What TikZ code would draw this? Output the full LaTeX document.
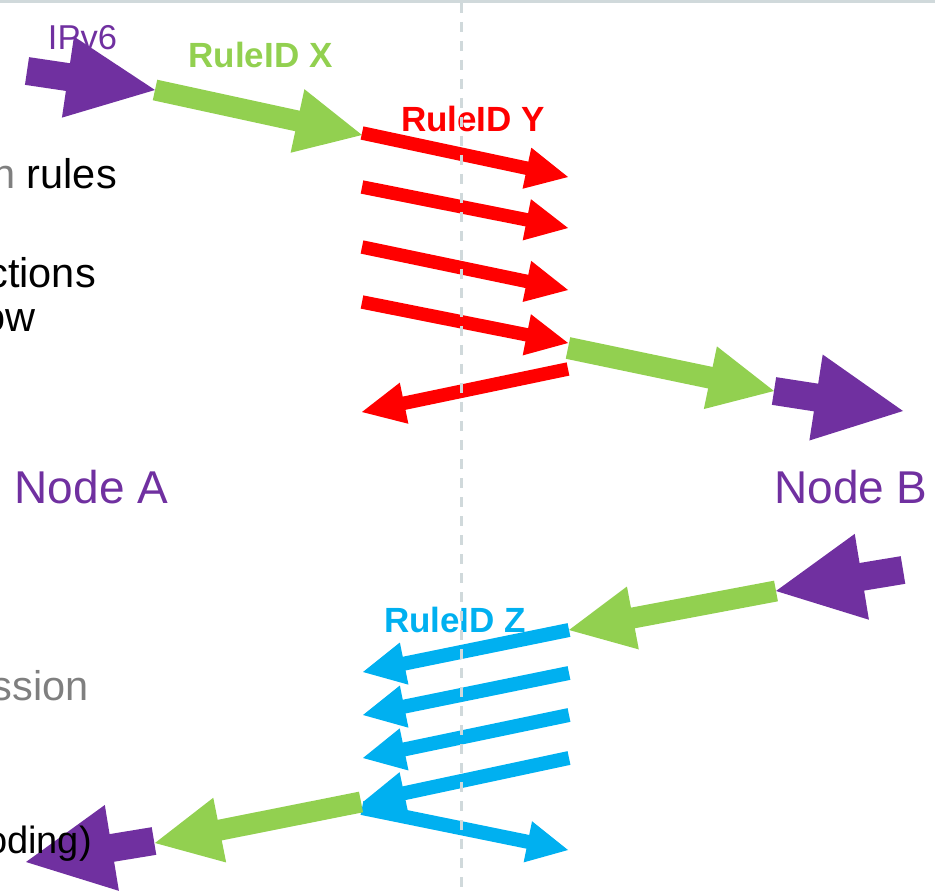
\documentclass[tikz,border=0pt]{standalone}
\usepackage{fontspec}
\setmainfont{Liberation Sans}
\usetikzlibrary{calc}
\definecolor{cpurple}{HTML}{7030A0}
\definecolor{cgreen}{HTML}{92D050}
\definecolor{cred}{HTML}{FF0000}
\definecolor{cblue}{HTML}{00B0F0}
\definecolor{ctextgray}{HTML}{7F7F7F}
\definecolor{cline}{HTML}{D0D9DB}
% #1 colour, #2 from, #3 to (tip), #4 shaft width, #5 half head width, #6 head length
\newcommand\blockarrow[6]{%
  \coordinate (ba) at ($(#3)!#6!(#2)$);
  \draw[#1, line width=#4] (#2) -- ($(ba)!1.5pt!(#3)$);
  \fill[#1] ($(ba)!#5!90:(#3)$) -- (#3) -- ($(ba)!#5!-90:(#3)$) -- cycle;
}
\tikzset{
  nodelbl/.style={font=\fontsize{46}{50}\selectfont, text=cpurple, inner sep=0, anchor=base},
  rulelbl/.style={font=\fontsize{35}{40}\selectfont\bfseries, inner sep=0, anchor=base},
  sidetxt/.style={font=\fontsize{41.5}{44}\selectfont, inner sep=0, anchor=base east},
  subtxt/.style={font=\fontsize{38}{42}\selectfont, inner sep=0, anchor=base east},
  ipv6lbl/.style={font=\fontsize{34.5}{38}\selectfont, text=cpurple, inner sep=0, anchor=base},
  divider/.style={cline, line width=3pt, dash pattern=on 10pt off 9pt}
}
\begin{document}
\begin{tikzpicture}[x=1pt,y=-1pt]
\useasboundingbox (0,0) rectangle (935,893);
\clip (0,0) rectangle (935,893);
\fill[cline] (0,0) rectangle (935,3);

% side texts (cut off at the left edge)
\node[sidetxt] (t1) at (117,189) {\textcolor{ctextgray}{n} rules};
\node[sidetxt] (t2) at (96,288) {ctions};
\node[sidetxt] (t3) at (36,332) {ow};
\node[sidetxt, text=ctextgray] (t4) at (89,700) {ssion};

% labels
\node[nodelbl] (nodeA) at (91.5,503) {Node A};
\node[nodelbl] (nodeB) at (851,503) {Node B};
\node[ipv6lbl] (ipv6) at (82.5,50) {IPv6};
\node[rulelbl, text=cgreen] (rx) at (260.5,68) {RuleID X};
\node[rulelbl, text=cred] (ry) at (473,132) {RuleID Y};
\node[rulelbl, text=cblue] (rz) at (455,632) {RuleID Z};

% coordinates
\coordinate (p1s) at (27,71);   \coordinate (p1e) at (155,90);
\coordinate (g1e) at (362,135);
\coordinate (r1s) at (362,133); \coordinate (r1e) at (568,177);
\coordinate (r2s) at (362,187); \coordinate (r2e) at (568,228);
\coordinate (r3s) at (362,247); \coordinate (r3e) at (568,290);
\coordinate (r4s) at (362,302); \coordinate (r4e) at (568,343);
\coordinate (r5s) at (568,369); \coordinate (r5e) at (362,412);
\coordinate (g2s) at (568,348); \coordinate (g2e) at (774,391);
\coordinate (p2e) at (903,411);
\coordinate (p3s) at (903,570); \coordinate (p3e) at (776,591);
\coordinate (g3e) at (569,630);
\coordinate (b1e) at (363,672);
\coordinate (b2s) at (569,673); \coordinate (b2e) at (363,715);
\coordinate (b3s) at (569,715); \coordinate (b3e) at (363,758);
\coordinate (b4s) at (569,758); \coordinate (b4e) at (363,802);
\coordinate (b5s) at (362,808); \coordinate (b5e) at (568,850);
\coordinate (g4s) at (361,802); \coordinate (g4e) at (155,843);
\coordinate (p4s) at (154,841); \coordinate (p4e) at (26,862);

% top flow A -> B
\blockarrow{cpurple}{p1s}{p1e}{28pt}{41pt}{88pt}
\blockarrow{cgreen}{p1e}{g1e}{21pt}{32.5pt}{66pt}
\blockarrow{cred}{r1s}{r1e}{13.5pt}{21pt}{42pt}
\blockarrow{cred}{r2s}{r2e}{13.5pt}{21pt}{42pt}
\blockarrow{cred}{r3s}{r3e}{13.5pt}{21pt}{42pt}
\blockarrow{cred}{r4s}{r4e}{13.5pt}{21pt}{42pt}
\blockarrow{cred}{r5s}{r5e}{13.5pt}{21pt}{43pt}
\blockarrow{cgreen}{g2s}{g2e}{22pt}{32pt}{65pt}
\blockarrow{cpurple}{g2e}{p2e}{28pt}{43.5pt}{88pt}

% bottom flow B -> A
\blockarrow{cpurple}{p3s}{p3e}{28pt}{43.5pt}{87pt}
\blockarrow{cgreen}{p3e}{g3e}{21pt}{32pt}{65pt}
\blockarrow{cblue}{g3e}{b1e}{14pt}{21.5pt}{42pt}
\blockarrow{cblue}{b2s}{b2e}{14pt}{21.5pt}{42pt}
\blockarrow{cblue}{b3s}{b3e}{14pt}{21.5pt}{42pt}
\blockarrow{cblue}{b4s}{b4e}{14pt}{21.5pt}{42pt}
\blockarrow{cblue}{b5s}{b5e}{14pt}{21pt}{41pt}
\blockarrow{cgreen}{g4s}{g4e}{21pt}{33pt}{66pt}
\blockarrow{cpurple}{p4s}{p4e}{28pt}{43.5pt}{87pt}

% text lying over the bottom purple arrow
\node[subtxt] (t5) at (92,853) {oding)};

% divider
\coordinate (dtop) at (461,3);
\coordinate (dbot) at (461,893);
\draw[divider] (dtop) -- (dbot);
\end{tikzpicture}
\end{document}
